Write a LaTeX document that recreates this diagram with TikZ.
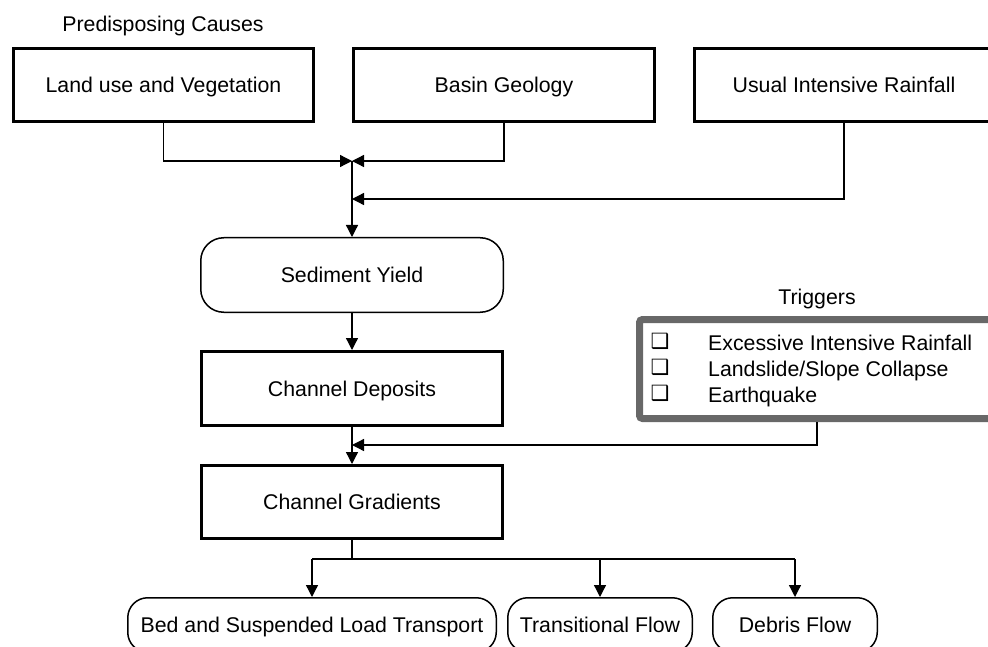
\documentclass[tikz,border=0pt]{standalone}
\usepackage{fontspec}
\setmainfont{Liberation Sans}
\newfontfamily\symfont{DejaVu Sans}
\usetikzlibrary{arrows.meta}
\definecolor{trigcol}{RGB}{104,104,104}
\begin{document}
\begin{tikzpicture}[x=1pt,y=-1pt,
  every node/.style={font=\fontsize{21.3}{25}\selectfont, text height=15.3pt, text depth=0pt, inner sep=0pt},
  thickbox/.style={draw, line width=3pt, minimum width=300pt, minimum height=73pt},
  roundbox/.style={draw, line width=1.5pt, rounded corners=23pt, minimum width=302.5pt, minimum height=74.5pt},
  endbox/.style={draw, line width=1.5pt, rounded corners=20pt, minimum height=54.5pt},
  trigbox/.style={draw=trigcol, line width=7pt, rounded corners=3pt, minimum width=355pt, minimum height=99pt},
  chk/.style={font=\symfont\fontsize{21}{21}\selectfont, text height=11pt},
  listitem/.style={anchor=west},
  conn/.style={line width=1.3pt},
  arr/.style={conn, -{Triangle[length=12pt,width=12pt]}}]
\useasboundingbox (0,0) rectangle (988,647);

% top boxes
\node[thickbox] (b1) at (163.5,85) {Land use and Vegetation};
\node[thickbox, minimum width=301pt] (b2) at (504,85) {Basin Geology};
\node[thickbox, minimum width=299pt] (b3) at (844,85) {Usual Intensive Rainfall};
\node (pc) at (163,24) {Predisposing Causes};

% main column
\node[roundbox] (sed) at (352,275) {Sediment Yield};
\node[thickbox, minimum width=301pt, minimum height=74pt] (dep) at (352,388.5) {Channel Deposits};
\node[thickbox, minimum width=301pt] (grad) at (352,502) {Channel Gradients};

% triggers
\node (tl) at (817,297) {Triggers};
\node[trigbox] (trig) at (817,369) {};
\node[chk] (c1) at (660,343) {❑};
\node[chk] (c2) at (660,369) {❑};
\node[chk] (c3) at (660,395) {❑};
\node[listitem] (t1) at (708,343) {Excessive Intensive Rainfall};
\node[listitem] (t2) at (708,369) {Landslide/Slope Collapse};
\node[listitem] (t3) at (708,395) {Earthquake};

% outcomes
\node[endbox, minimum width=368.5pt] (bed) at (312,625) {Bed and Suspended Load Transport};
\node[endbox, minimum width=184.5pt] (trans) at (600,625) {Transitional Flow};
\node[endbox, minimum width=164.5pt] (deb) at (795,625) {Debris Flow};

% junctions
\coordinate (j1) at (352,161);
\coordinate (j2) at (352,199);
\coordinate (j3) at (352,445);
\coordinate (j4) at (352,559);

% connectors
\draw[arr] (b1.south) |- (j1);
\draw[arr] (b2.south) |- (j1);
\draw[arr] (b3.south) |- (j2);
\draw[arr] (j1) -- (sed.north);
\draw[arr] (sed.south) -- (dep.north);
\draw[arr] (dep.south) -- (grad.north);
\draw[arr] (trig.south) |- (j3);
\draw[conn] (grad.south) -- (j4);
\draw[conn] (j4 -| bed.north) -- (j4 -| deb.north);
\draw[arr] (j4 -| bed.north) -- (bed.north);
\draw[arr] (j4 -| trans.north) -- (trans.north);
\draw[arr] (j4 -| deb.north) -- (deb.north);
\end{tikzpicture}
\end{document}
